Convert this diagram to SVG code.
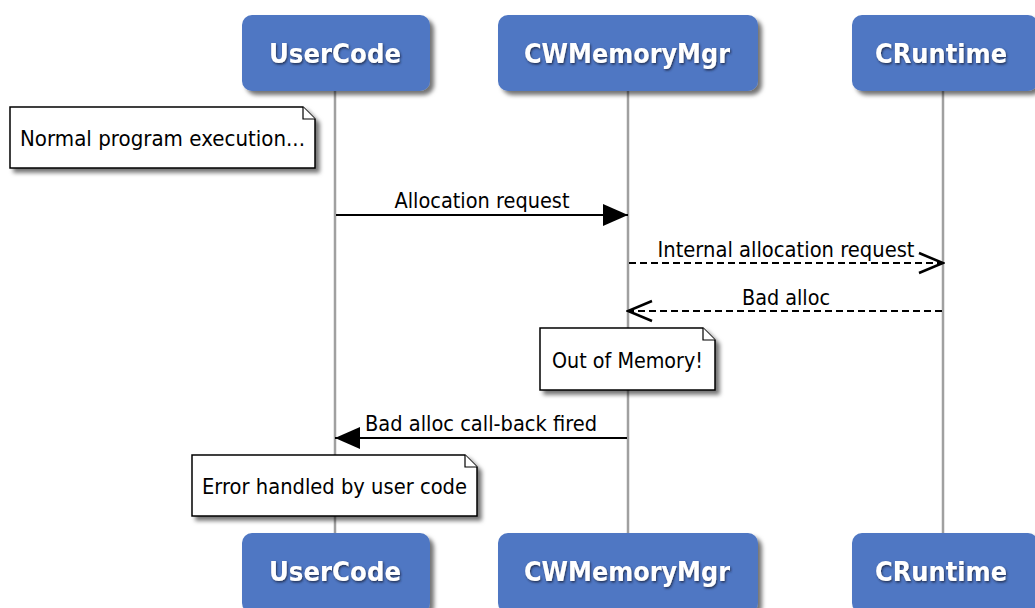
<svg xmlns="http://www.w3.org/2000/svg" width="1035" height="608" viewBox="0 0 1035 608">
<defs>
  <filter id="shadow" x="-10%" y="-10%" width="130%" height="140%">
    <feDropShadow dx="4" dy="4" stdDeviation="2" flood-color="#000" flood-opacity="0.55"/>
  </filter>
  <filter id="tshadow" x="-10%" y="-30%" width="120%" height="160%">
    <feDropShadow dx="1" dy="1.5" stdDeviation="1.2" flood-color="#1a2a4a" flood-opacity="0.9"/>
  </filter>
  <marker id="filled" viewBox="0 0 25 22" refX="25" refY="11" markerWidth="25" markerHeight="22" markerUnits="userSpaceOnUse" orient="auto">
    <path d="M0,0 L25,11 L0,22 Z" fill="#000"/>
  </marker>
  <marker id="open" viewBox="0 0 28 24" refX="26" refY="12" markerWidth="28" markerHeight="24" markerUnits="userSpaceOnUse" orient="auto">
    <path d="M2,2 L26,12 L2,22" fill="none" stroke="#000" stroke-width="2.5"/>
  </marker>
</defs>
<style>
  .lifeline { stroke: #a0a0a0; stroke-width: 2.5; fill: none; }
  .box { fill: #4f77c3; filter: url(#shadow); }
  .ptext { font-family: "DejaVu Sans", Verdana, sans-serif; font-weight: bold; font-size: 26px; fill: #fff; text-anchor: middle; filter: url(#tshadow); }
  .note { fill: #fff; stroke: #000; stroke-width: 1.5; filter: url(#shadow); }
  .fold { fill: #fff; stroke: #000; stroke-width: 1.2; }
  .ntext { font-family: "DejaVu Sans", Verdana, sans-serif; font-size: 21px; fill: #000; }
  .msg { stroke: #000; stroke-width: 2.2; fill: none; }
  .dash { stroke-dasharray: 7 4; }
  .mtext { font-family: "DejaVu Sans", Verdana, sans-serif; font-size: 21px; fill: #000; text-anchor: middle; }
</style>
<rect width="1035" height="608" fill="#fff"/>

<g id="lifelines">
  <line class="lifeline" x1="335" y1="90" x2="335" y2="535"/>
  <line class="lifeline" x1="628" y1="90" x2="628" y2="535"/>
  <line class="lifeline" x1="943" y1="90" x2="943" y2="535"/>
</g>

<g id="UserCode">
  <rect class="box" x="242" y="15" width="188" height="76" rx="10"/>
  <text class="ptext" x="335" y="63" textLength="132" lengthAdjust="spacingAndGlyphs">UserCode</text>
  <rect class="box" x="242" y="533" width="188" height="80" rx="10"/>
  <text class="ptext" x="335" y="581" textLength="132" lengthAdjust="spacingAndGlyphs">UserCode</text>
</g>

<g id="CWMemoryMgr">
  <rect class="box" x="498" y="15" width="260" height="76" rx="10"/>
  <text class="ptext" x="627" y="63" textLength="206" lengthAdjust="spacingAndGlyphs">CWMemoryMgr</text>
  <rect class="box" x="498" y="533" width="260" height="80" rx="10"/>
  <text class="ptext" x="627" y="581" textLength="206" lengthAdjust="spacingAndGlyphs">CWMemoryMgr</text>
</g>

<g id="CRuntime">
  <rect class="box" x="852" y="15" width="186" height="76" rx="10"/>
  <text class="ptext" x="941" y="63" textLength="132" lengthAdjust="spacingAndGlyphs">CRuntime</text>
  <rect class="box" x="852" y="533" width="186" height="80" rx="10"/>
  <text class="ptext" x="941" y="581" textLength="132" lengthAdjust="spacingAndGlyphs">CRuntime</text>
</g>

<g id="note1">
  <path class="note" d="M10,107 L303,107 L315,119 L315,168 L10,168 Z"/>
  <path class="fold" d="M303,107 L303,119 L315,119"/>
  <text class="ntext" x="20" y="146" textLength="285" lengthAdjust="spacingAndGlyphs">Normal program execution...</text>
</g>

<g id="note2">
  <path class="note" d="M540,328 L703,328 L715,340 L715,390 L540,390 Z"/>
  <path class="fold" d="M703,328 L703,340 L715,340"/>
  <text class="ntext" x="552" y="368" textLength="151" lengthAdjust="spacingAndGlyphs">Out of Memory!</text>
</g>

<g id="note3">
  <path class="note" d="M192,455 L465,455 L477,467 L477,516 L192,516 Z"/>
  <path class="fold" d="M465,455 L465,467 L477,467"/>
  <text class="ntext" x="202" y="494" textLength="265" lengthAdjust="spacingAndGlyphs">Error handled by user code</text>
</g>

<g id="connectors">
  <line class="msg" x1="336" y1="215" x2="628" y2="215" marker-end="url(#filled)"/>
  <text class="mtext" x="482" y="208" textLength="175" lengthAdjust="spacingAndGlyphs">Allocation request</text>

  <line class="msg dash" x1="629" y1="263" x2="943" y2="263" marker-end="url(#open)"/>
  <text class="mtext" x="786" y="257" textLength="257" lengthAdjust="spacingAndGlyphs">Internal allocation request</text>

  <line class="msg dash" x1="942" y1="311" x2="628" y2="311" marker-end="url(#open)"/>
  <text class="mtext" x="786" y="305" textLength="88" lengthAdjust="spacingAndGlyphs">Bad alloc</text>

  <line class="msg" x1="627" y1="438" x2="335" y2="438" marker-end="url(#filled)"/>
  <text class="mtext" x="481" y="431" textLength="232" lengthAdjust="spacingAndGlyphs">Bad alloc call-back fired</text>
</g>
</svg>
